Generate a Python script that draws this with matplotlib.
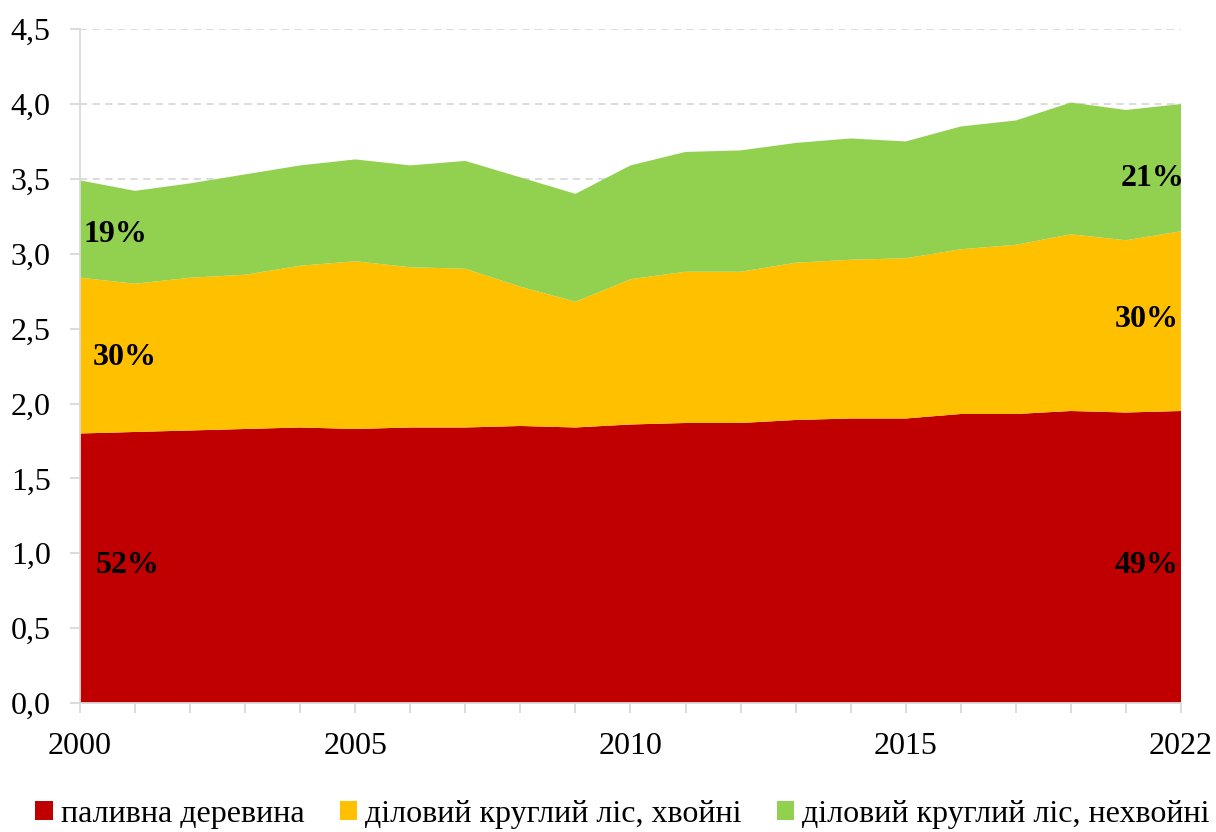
import numpy as np
import matplotlib.pyplot as plt
from matplotlib.patches import Patch

# categories on the x axis (only some are labelled)
tick_labels = ['2000', '', '', '', '', '2005', '', '', '', '', '2010',
               '', '', '', '', '2015', '', '', '', '', '2022']

# million m3
fuelwood = np.array([1.80, 1.81, 1.82, 1.83, 1.84, 1.83, 1.84, 1.84, 1.85, 1.84, 1.86,
                     1.87, 1.87, 1.89, 1.90, 1.90, 1.93, 1.93, 1.95, 1.94, 1.95])
conifer = np.array([1.04, 0.99, 1.02, 1.03, 1.08, 1.12, 1.07, 1.06, 0.93, 0.84, 0.97,
                    1.01, 1.01, 1.05, 1.06, 1.07, 1.10, 1.13, 1.18, 1.15, 1.20])
nonconifer = np.array([0.65, 0.62, 0.63, 0.67, 0.67, 0.68, 0.68, 0.72, 0.73, 0.72, 0.76,
                       0.80, 0.81, 0.80, 0.81, 0.78, 0.82, 0.83, 0.88, 0.87, 0.85])

names = ['паливна деревина', 'діловий круглий ліс, хвойні', 'діловий круглий ліс, нехвойні']
colors = ['#C00000', '#FFC000', '#92D050']

plt.rcParams['font.family'] = ['Liberation Serif', 'DejaVu Serif']

def main():
	fig = plt.figure(figsize=(12.16, 8.32), dpi=100)
	ax = fig.add_axes([0.0658, 0.155, 0.9054, 0.81])

	x = np.arange(len(tick_labels))
	ax.stackplot(x, fuelwood, conifer, nonconifer, colors=colors, linewidth=0, zorder=2)

	ax.set_xlim(0, len(x) - 1)
	ax.set_ylim(0, 4.5)
	ax.set_yticks(np.arange(0, 4.51, 0.5))
	ax.set_yticklabels([('%.1f' % v).replace('.', ',') for v in np.arange(0, 4.51, 0.5)])
	ax.set_xticks(x)
	ax.set_xticklabels(tick_labels)
	ax.grid(axis='y', color='#D9D9D9', linestyle=(0, (4, 3)), linewidth=1.3, zorder=1)

	for s in ['top', 'right']:
		ax.spines[s].set_visible(False)
	for s in ['left', 'bottom']:
		ax.spines[s].set_color('#D9D9D9')
		ax.spines[s].set_linewidth(1.3)
	ax.tick_params(axis='both', colors='#D9D9D9', labelcolor='black', labelsize=23, width=1.3)
	ax.tick_params(axis='x', length=7, pad=14)
	ax.tick_params(axis='y', length=7, pad=14)

	# share labels, first and last year
	total = fuelwood + conifer + nonconifer
	pos_left = [(0.87, 0.92), (0.82, 2.31), (0.64, 3.13)]
	pos_right = [(19.38, 0.92), (19.38, 2.56), (19.49, 3.505)]
	for k, series in enumerate([fuelwood, conifer, nonconifer]):
		ax.text(pos_left[k][0], pos_left[k][1], '%d%%' % round(series[0] / total[0] * 100),
			fontsize=23, fontweight='bold', ha='center', va='center', zorder=3)
		ax.text(pos_right[k][0], pos_right[k][1], '%d%%' % round(series[-1] / total[-1] * 100),
			fontsize=23, fontweight='bold', ha='center', va='center', zorder=3)

	handles = [Patch(facecolor=c, edgecolor='none') for c in colors]
	fig.legend(handles, names, loc='center', bbox_to_anchor=(0.512, 0.021), ncol=3,
		frameon=False, fontsize=23, handlelength=0.55, handleheight=0.55,
		handletextpad=0.25, columnspacing=1.1, borderpad=0, borderaxespad=0)

	fig.savefig('out.png', dpi=100)

main()
